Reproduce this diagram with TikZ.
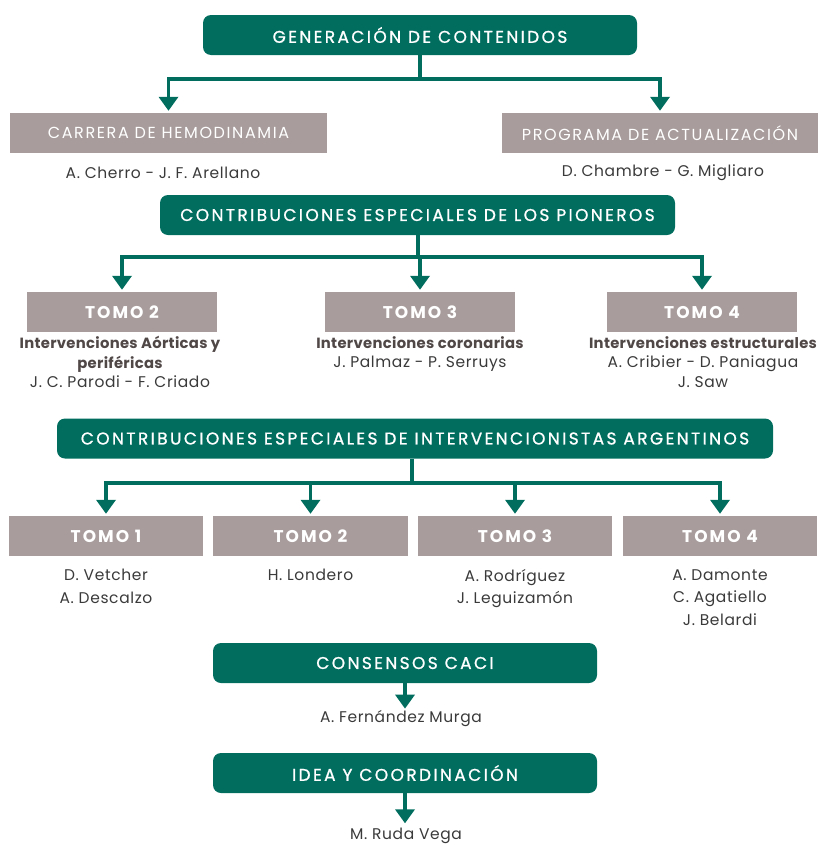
\documentclass[tikz,border=0pt]{standalone}
\usepackage{fontspec}
\setmainfont{Poppins}
\newfontfamily\headfont[LetterSpace=14, FakeBold=1]{Poppins}
\newfontfamily\boxfont[LetterSpace=10]{Poppins}
\newfontfamily\tomofont[LetterSpace=12]{Poppins}
\newfontfamily\namefont[LetterSpace=4]{Poppins}
\newfontfamily\boldfont[LetterSpace=2]{Poppins}
\usetikzlibrary{arrows.meta}
\definecolor{cgreen}{HTML}{006D5F}
\definecolor{cgray}{HTML}{A89C9C}
\definecolor{ctext}{HTML}{3A3A3A}
\definecolor{cbold}{HTML}{504747}
\newcommand{\bt}[1]{{\boldfont\fontsize{14.8}{19.5}\bfseries\selectfont\color{cbold}#1}}
\begin{document}
\begin{tikzpicture}[x=1pt,y=-1pt,
  head/.style={fill=cgreen, rounded corners=8pt, text=white, minimum height=40pt, inner sep=0pt, font=\headfont\fontsize{17}{18}\selectfont},
  sub/.style={fill=cgray, text=white, minimum height=40pt, inner sep=0pt, font=\boxfont\fontsize{16}{18}\selectfont},
  tomo/.style={sub, font=\tomofont\fontsize{17}{18}\bfseries\selectfont},
  names/.style={text=ctext, align=center, inner sep=0pt, font=\namefont\fontsize{15.5}{22.5}\selectfont},
  pnames/.style={text=ctext, align=center, inner sep=0pt, font=\namefont\fontsize{15.5}{19.5}\selectfont},
  conn/.style={draw=cgreen, line width=3.5pt},
  arr/.style={conn, -{Triangle[width=19pt,length=14pt]}, shorten >=2pt}]
\useasboundingbox (0,0) rectangle (819,846);
% level 1
\node[head, minimum width=434pt] (gen) at (420,35) {GENERACIÓN DE CONTENIDOS};
\node[sub, minimum width=317pt] (carrera) at (168.5,133) {CARRERA DE HEMODINAMIA};
\node[sub, minimum width=316pt] (programa) at (660,133) {PROGRAMA DE ACTUALIZACIÓN};
\node[names] (n1) at (163,173) {A. Cherro - J. F. Arellano};
\node[names] (n2) at (663,173) {D. Chambre - G. Migliaro};
\coordinate (j1) at (420,79);
\draw[conn] (gen.south) -- (j1);
\draw[arr] (j1) -| (carrera.north);
\draw[arr] (j1) -| (programa.north);
% pioneros
\node[head, minimum width=515pt] (pion) at (417.5,215) {CONTRIBUCIONES ESPECIALES DE LOS PIONEROS};
\node[tomo, minimum width=190pt] (p2) at (122,312) {TOMO 2};
\node[tomo, minimum width=190pt] (p3) at (420,312) {TOMO 3};
\node[tomo, minimum width=190pt] (p4) at (702,312) {TOMO 4};
\coordinate (j2) at (418,257);
\draw[conn] (pion.south -| j2) -- (j2);
\draw[arr] (j2) -| (p2.north);
\draw[arr] (j2) -| (p3.north);
\draw[arr] (j2) -| (p4.north);
\node[pnames, anchor=north] (t2) at (120,336) {\bt{Intervenciones Aórticas y}\\\bt{periféricas}\\J. C. Parodi - F. Criado};
\node[pnames, anchor=north] (t3) at (420,336) {\bt{Intervenciones coronarias}\\J. Palmaz - P. Serruys};
\node[pnames, anchor=north] (t4) at (703,336) {\bt{Intervenciones estructurales}\\A. Cribier - D. Paniagua\\J. Saw};
% argentinos
\node[head, minimum width=716pt] (arg) at (415,438.5) {CONTRIBUCIONES ESPECIALES DE INTERVENCIONISTAS ARGENTINOS};
\node[tomo, minimum width=194pt] (a1) at (106,536) {TOMO 1};
\node[tomo, minimum width=195pt] (a2) at (310.5,536) {TOMO 2};
\node[tomo, minimum width=194pt] (a3) at (515,536) {TOMO 3};
\node[tomo, minimum width=194pt] (a4) at (720,536) {TOMO 4};
\coordinate (j3) at (412,483);
\draw[conn] (arg.south -| j3) -- (j3);
\draw[arr] (j3) -| (a1.north);
\draw[arr] (j3) -| (a2.north);
\draw[arr] (j3) -| (a3.north);
\draw[arr] (j3) -| (a4.north);
\node[names, anchor=north] (m1) at (106,569) {D. Vetcher\\A. Descalzo};
\node[names, anchor=north] (m2) at (310.5,569) {H. Londero};
\node[names, anchor=north] (m3) at (515,569) {A. Rodríguez\\J. Leguizamón};
\node[names, anchor=north] (m4) at (720,569) {A. Damonte\\C. Agatiello\\J. Belardi};
% consensos
\node[head, minimum width=384pt] (caci) at (405,663) {CONSENSOS CACI};
\node[names] (fm) at (401,719) {A. Fernández Murga};
\draw[arr] (caci.south) -- (caci.south |- fm.north);
\node[head, minimum width=384pt] (idea) at (405,773) {IDEA Y COORDINACIÓN};
\node[names, anchor=base] (rv) at (406,839) {M. Ruda Vega};
\draw[arr, shorten >=4pt] (idea.south) -- (idea.south |- rv.north);
\end{tikzpicture}
\end{document}
